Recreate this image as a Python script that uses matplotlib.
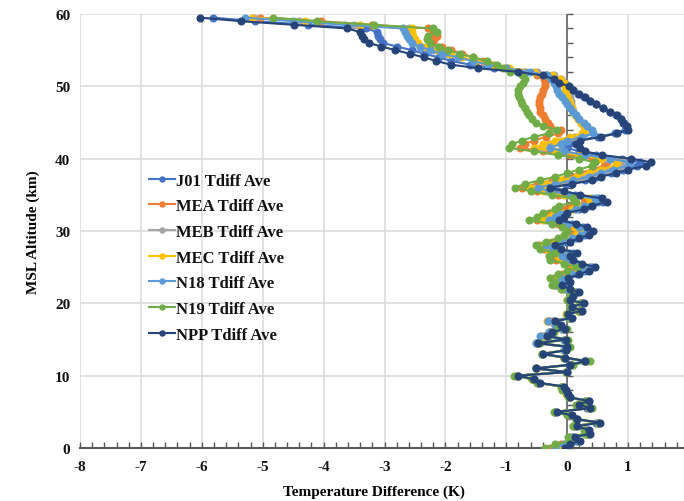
import numpy as np
import matplotlib
matplotlib.use("Agg")
import matplotlib.pyplot as plt
from matplotlib.ticker import MultipleLocator

# Altitude levels (km MSL), 0.5 km spacing
ALT_KM = np.arange(0, 60, 0.5)

# Average temperature difference (K) per satellite, bottom to top
J01 = [-0.08, 0.02, 0.18, 0.10, 0.33, 0.30, 0.12, 0.48, 0.14, 0.05,
       -0.20, 0.33, 0.16, 0.30, 0.03, 0.00, -0.05, -0.08, -0.48, -0.58,
       -0.82, -0.02, -0.52, 0.03, 0.28, -0.05, -0.42, -0.05, -0.02, -0.50,
       -0.05, -0.36, -0.28, -0.05, -0.14, -0.23, 0.05, 0.00, 0.22, 0.06,
       0.24, 0.03, 0.08, 0.16, 0.02, -0.12, 0.02, -0.02, 0.16, 0.30,
       0.40, 0.18, 0.04, -0.02, 0.10, -0.18, -0.28, -0.02, 0.14, 0.30,
       0.38, 0.26, 0.08, -0.22, -0.12, -0.06, 0.20, 0.34, 0.58, 0.50,
       0.12, -0.15, -0.38, -0.02, 0.30, 0.48, 0.72, 0.92, 1.15, 1.20,
       0.90, 0.48, 0.20, 0.00, 0.03, 0.15, 0.50, 0.78, 0.95, 0.96,
       0.93, 0.88, 0.80, 0.70, 0.58, 0.47, 0.37, 0.28, 0.18, 0.10,
       0.02, -0.05, -0.18, -0.35, -0.70, -1.21, -1.60, -1.90, -2.11, -2.35,
       -2.55, -2.80, -3.02, -3.08, -3.10, -3.12, -3.30, -4.25, -5.12, -5.81]

MEA = [-0.28, -0.10, 0.10, 0.04, 0.32, 0.30, 0.10, 0.50, 0.14, 0.02,
       -0.20, 0.38, 0.17, 0.32, 0.03, -0.01, -0.06, -0.09, -0.48, -0.57,
       -0.84, -0.02, -0.52, 0.06, 0.32, -0.05, -0.42, -0.04, 0.00, -0.48,
       -0.02, -0.38, -0.28, -0.06, -0.18, -0.28, 0.04, 0.00, 0.20, 0.05,
       0.22, 0.01, 0.05, 0.12, -0.08, -0.22, -0.15, -0.22, -0.08, 0.08,
       0.25, 0.02, -0.18, -0.22, -0.10, -0.38, -0.46, -0.25, -0.06, 0.08,
       0.15, 0.02, -0.15, -0.50, -0.38, -0.30, -0.05, 0.05, 0.30, 0.28,
       -0.15, -0.50, -0.75, -0.50, -0.25, 0.00, 0.20, 0.40, 0.60, 0.65,
       0.40, 0.05, -0.40, -0.77, -0.70, -0.55, -0.35, -0.15, -0.11, -0.28,
       -0.32, -0.36, -0.40, -0.44, -0.45, -0.47, -0.47, -0.45, -0.42, -0.40,
       -0.37, -0.36, -0.38, -0.50, -0.75, -1.00, -1.21, -1.38, -1.55, -1.72,
       -1.90, -2.05, -2.20, -2.18, -2.14, -2.20, -2.28, -3.20, -4.05, -5.05]

MEB = [-0.18, -0.04, 0.16, 0.08, 0.34, 0.31, 0.12, 0.50, 0.15, 0.04,
       -0.20, 0.37, 0.19, 0.34, 0.04, -0.01, -0.05, -0.09, -0.48, -0.56,
       -0.81, -0.01, -0.52, 0.04, 0.30, -0.05, -0.42, -0.05, -0.02, -0.51,
       -0.05, -0.43, -0.30, -0.08, -0.20, -0.32, 0.03, -0.01, 0.19, 0.05,
       0.22, 0.01, 0.05, 0.13, -0.04, -0.19, -0.08, -0.12, 0.05, 0.22,
       0.35, 0.12, -0.04, -0.12, 0.02, -0.28, -0.38, -0.14, 0.04, 0.18,
       0.28, 0.16, -0.02, -0.35, -0.24, -0.18, 0.12, 0.24, 0.45, 0.40,
       0.00, -0.35, -0.55, -0.28, 0.00, 0.25, 0.45, 0.65, 0.88, 0.92,
       0.62, 0.25, -0.12, -0.42, -0.28, -0.10, 0.12, 0.30, 0.30, 0.27,
       0.22, 0.18, 0.14, 0.10, 0.08, 0.07, 0.06, 0.05, 0.04, 0.02,
       0.00, -0.03, -0.10, -0.22, -0.50, -0.98, -1.28, -1.52, -1.76, -1.98,
       -2.18, -2.35, -2.48, -2.52, -2.55, -2.58, -2.60, -3.50, -4.40, -5.15]

MEC = [-0.15, -0.02, 0.18, 0.08, 0.34, 0.30, 0.12, 0.50, 0.14, 0.04,
       -0.20, 0.36, 0.18, 0.33, 0.03, -0.02, -0.06, -0.10, -0.48, -0.57,
       -0.82, -0.02, -0.52, 0.04, 0.30, -0.05, -0.42, -0.05, -0.02, -0.50,
       -0.05, -0.42, -0.30, -0.08, -0.20, -0.33, 0.03, -0.02, 0.18, 0.04,
       0.22, 0.00, 0.04, 0.12, -0.05, -0.20, -0.10, -0.15, 0.02, 0.18,
       0.32, 0.10, -0.08, -0.15, -0.02, -0.32, -0.40, -0.18, 0.00, 0.15,
       0.25, 0.12, -0.05, -0.40, -0.28, -0.22, 0.08, 0.20, 0.40, 0.35,
       -0.05, -0.40, -0.61, -0.35, -0.10, 0.15, 0.35, 0.55, 0.78, 0.82,
       0.55, 0.20, -0.20, -0.55, -0.40, -0.20, 0.05, 0.25, 0.32, 0.27,
       0.22, 0.18, 0.13, 0.10, 0.08, 0.05, 0.03, 0.00, -0.02, -0.03,
       -0.03, -0.06, -0.12, -0.25, -0.55, -0.95, -1.25, -1.50, -1.72, -1.92,
       -2.12, -2.30, -2.45, -2.50, -2.53, -2.55, -2.55, -3.40, -4.30, -5.18]

N18 = [-0.20, -0.05, 0.15, 0.08, 0.35, 0.32, 0.12, 0.50, 0.16, 0.05,
       -0.20, 0.38, 0.20, 0.36, 0.04, 0.00, -0.05, -0.08, -0.48, -0.55,
       -0.80, 0.00, -0.52, 0.04, 0.30, -0.04, -0.42, -0.05, -0.02, -0.52,
       -0.05, -0.45, -0.30, -0.08, -0.20, -0.31, 0.03, 0.00, 0.20, 0.05,
       0.22, 0.02, 0.05, 0.14, -0.02, -0.18, -0.05, -0.10, 0.08, 0.25,
       0.38, 0.15, 0.00, -0.08, 0.05, -0.25, -0.35, -0.10, 0.08, 0.22,
       0.33, 0.20, 0.02, -0.30, -0.20, -0.15, 0.15, 0.28, 0.50, 0.45,
       0.05, -0.30, -0.48, -0.20, 0.10, 0.35, 0.55, 0.75, 1.00, 1.03,
       0.70, 0.30, -0.05, -0.28, -0.11, 0.00, 0.25, 0.43, 0.40, 0.33,
       0.27, 0.20, 0.15, 0.10, 0.05, 0.00, -0.03, -0.08, -0.14, -0.17,
       -0.18, -0.22, -0.26, -0.33, -0.61, -1.00, -1.30, -1.55, -1.80, -2.05,
       -2.25, -2.42, -2.55, -2.60, -2.63, -2.66, -2.69, -3.65, -4.50, -5.29]

N19 = [-0.36, -0.20, 0.05, 0.02, 0.30, 0.28, 0.10, 0.50, 0.14, 0.00,
       -0.22, 0.40, 0.15, 0.30, 0.02, 0.00, -0.08, -0.10, -0.50, -0.58,
       -0.88, -0.02, -0.52, 0.10, 0.38, -0.05, -0.42, -0.02, 0.05, -0.45,
       0.02, -0.30, -0.22, 0.00, -0.15, -0.20, 0.05, 0.00, 0.20, 0.05,
       0.22, 0.00, 0.05, 0.10, -0.11, -0.25, -0.20, -0.28, -0.15, 0.00,
       0.16, -0.05, -0.28, -0.30, -0.20, -0.45, -0.52, -0.35, -0.15, -0.05,
       0.00, -0.08, -0.25, -0.63, -0.50, -0.40, -0.20, -0.14, 0.15, 0.10,
       -0.25, -0.60, -0.85, -0.70, -0.45, -0.20, 0.00, 0.20, 0.40, 0.45,
       0.20, -0.15, -0.55, -0.96, -0.90, -0.75, -0.55, -0.30, -0.17, -0.39,
       -0.52, -0.58, -0.62, -0.66, -0.70, -0.74, -0.76, -0.79, -0.80, -0.80,
       -0.77, -0.73, -0.69, -0.75, -0.94, -1.05, -1.15, -1.32, -1.54, -1.76,
       -1.95, -2.10, -2.25, -2.30, -2.28, -2.14, -2.20, -3.18, -4.11, -4.83]

NPP = [-0.03, 0.05, 0.21, 0.12, 0.38, 0.35, 0.16, 0.54, 0.16, 0.08,
       -0.17, 0.38, 0.19, 0.35, 0.05, 0.02, -0.02, -0.05, -0.45, -0.55,
       -0.80, 0.00, -0.52, 0.05, 0.30, -0.03, -0.40, -0.02, 0.00, -0.48,
       -0.02, -0.33, -0.25, -0.03, -0.11, -0.20, 0.08, 0.02, 0.24, 0.08,
       0.27, 0.05, 0.10, 0.19, 0.05, -0.09, 0.05, 0.02, 0.20, 0.35,
       0.46, 0.24, 0.10, 0.05, 0.16, -0.11, -0.20, 0.05, 0.20, 0.35,
       0.43, 0.32, 0.15, -0.14, -0.05, 0.00, 0.27, 0.40, 0.65, 0.57,
       0.21, -0.05, -0.28, 0.08, 0.40, 0.55, 0.80, 1.00, 1.30, 1.38,
       1.05, 0.57, 0.30, 0.21, 0.15, 0.21, 0.55, 0.82, 1.00, 0.98,
       0.92, 0.88, 0.82, 0.70, 0.58, 0.48, 0.38, 0.30, 0.20, 0.10,
       0.03, -0.14, -0.22, -0.40, -0.80, -1.47, -1.91, -2.15, -2.35, -2.58,
       -2.82, -3.05, -3.26, -3.34, -3.37, -3.40, -3.61, -4.48, -5.35, -6.03]

SERIES_NAMES = ["J01 Tdiff Ave", "MEA Tdiff Ave", "MEB Tdiff Ave", "MEC Tdiff Ave",
                "N18 Tdiff Ave", "N19 Tdiff Ave", "NPP Tdiff Ave"]
SERIES_VALUES = [J01, MEA, MEB, MEC, N18, N19, NPP]
SERIES_COLORS = ["#4472C4", "#ED7D31", "#A5A5A5", "#FFC000",
                 "#5B9BD5", "#70AD47", "#264478"]

X_TICKS = [-8, -7, -6, -5, -4, -3, -2, -1, 0, 1]
Y_TICKS = [0, 10, 20, 30, 40, 50, 60]

plt.rcParams["font.family"] = ["Liberation Serif", "DejaVu Serif"]
plt.rcParams["font.weight"] = "bold"
plt.rcParams["axes.unicode_minus"] = False

W, H = 684, 502
fig = plt.figure(figsize=(W / 100, H / 100), dpi=100)
ax = fig.add_axes([80 / W, 1 - 449 / H, 609 / W, 434 / H])

for name, vals, col in zip(SERIES_NAMES, SERIES_VALUES, SERIES_COLORS):
    ax.plot(vals, ALT_KM, color=col, lw=1.5, marker="o", ms=4.8,
            label=name, zorder=3)

ax.set_xlim(-8, 2)
ax.set_ylim(0, 60)
ax.set_xticks(X_TICKS)
ax.set_yticks(Y_TICKS)
ax.xaxis.set_minor_locator(MultipleLocator(0.2))
ax.grid(True, which="major", color="#D9D9D9", lw=1.1, zorder=0)
ax.set_axisbelow(True)

for side in ("top", "right", "left"):
    ax.spines[side].set_visible(False)
ax.spines["bottom"].set_color("#595959")
ax.spines["bottom"].set_linewidth(1.5)

ax.tick_params(axis="x", which="both", direction="in", length=4, width=1,
               color="#595959", labelsize=11, pad=9, labelcolor="#111111")
ax.tick_params(axis="y", which="both", length=0, labelsize=11, pad=7,
               labelcolor="#111111")

# vertical axis line crossing at T = 0, with a tick every 2 km
ax.axvline(0, color="#595959", lw=1.1, zorder=2)
ax.plot(np.zeros(31), np.arange(0, 61, 2), ls="none", marker=1, ms=4,
        mew=1, color="#595959", zorder=2, clip_on=False)

ax.set_xlabel("Temperature Difference (K)", fontsize=11, fontweight="bold")
ax.xaxis.set_label_coords((374 - 80) / 609, -0.085)
ax.set_ylabel("MSL Altitude (km)", fontsize=11, fontweight="bold")
ax.yaxis.set_label_coords(-0.066, 0.5)

leg = ax.legend(loc="upper left", bbox_to_anchor=(137 / W, 1 - 162 / H),
                bbox_transform=fig.transFigure, frameon=False, fontsize=12,
                handlelength=1.55, handletextpad=0.1, labelspacing=0.58,
                numpoints=1, borderpad=0.2, markerscale=0.75)
for t in leg.get_texts():
    t.set_color("#111111")
for h in leg.legend_handles:
    h.set_linewidth(1.5)

fig.savefig("out.png", dpi=100)
